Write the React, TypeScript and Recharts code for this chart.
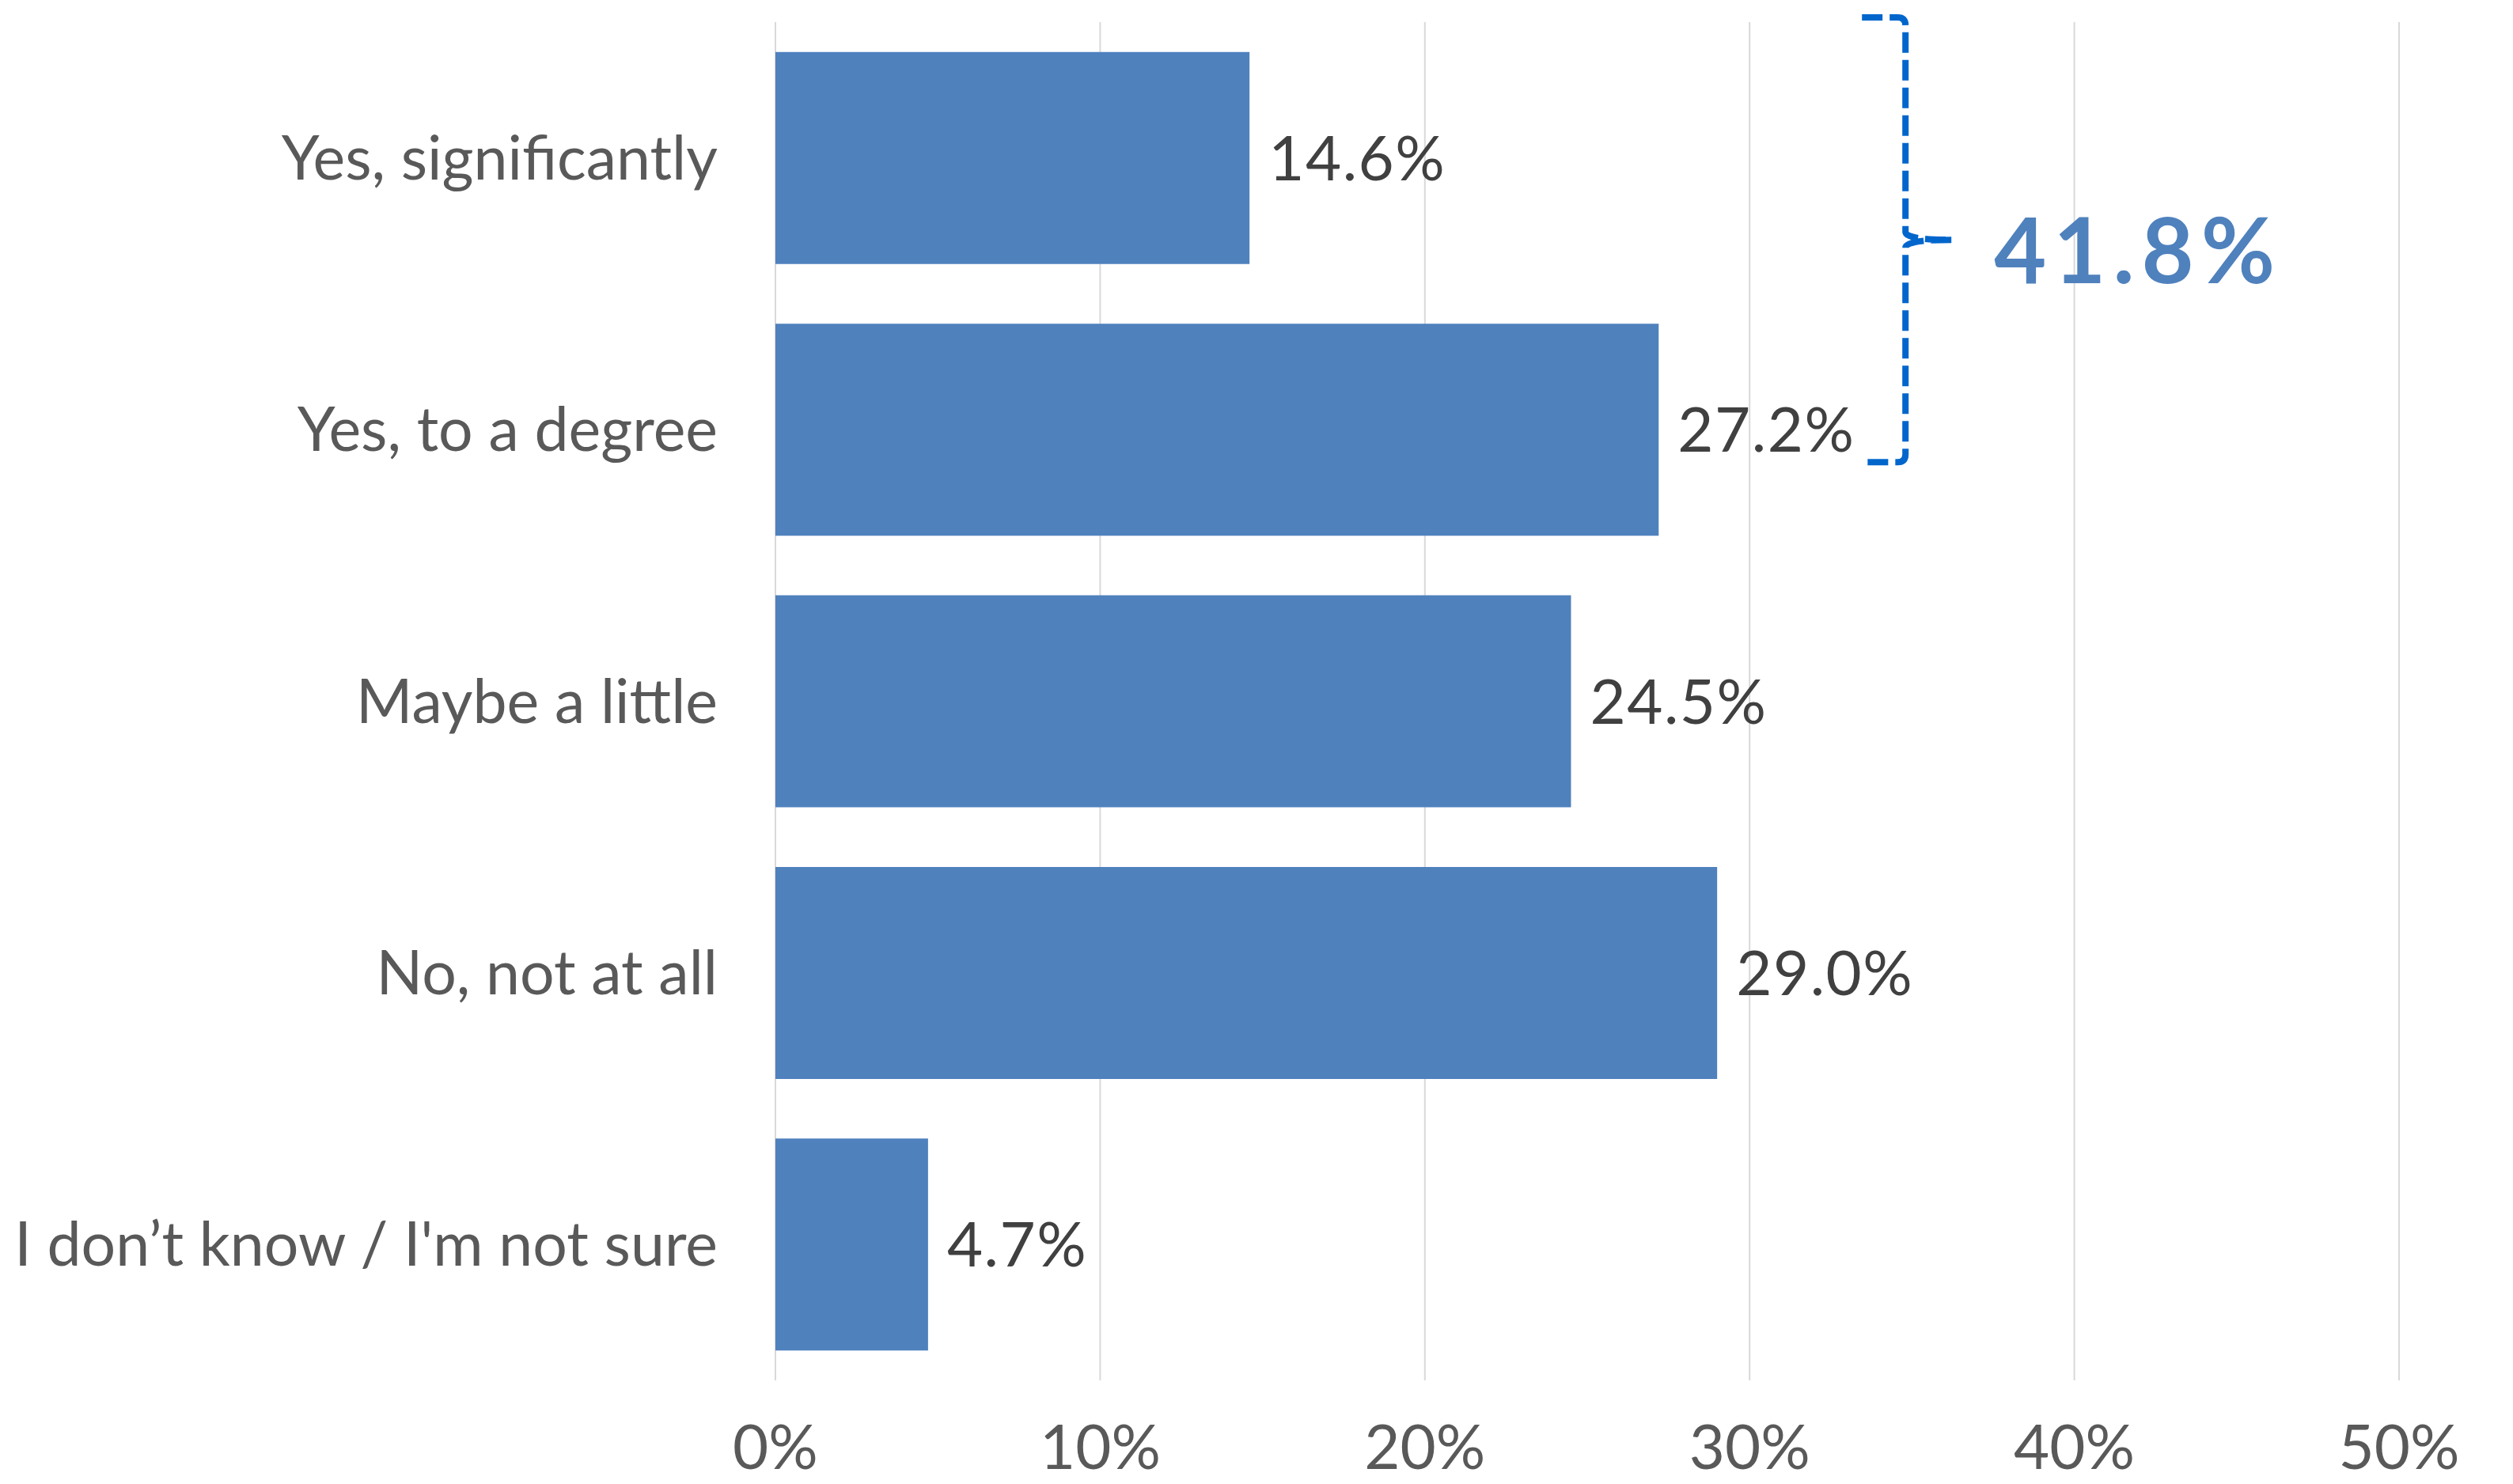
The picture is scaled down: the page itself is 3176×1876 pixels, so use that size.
import React from "react";
import { BarChart, Bar, XAxis, YAxis, CartesianGrid, LabelList, Customized } from "recharts";

const categories = [
  "Yes, significantly",
  "Yes, to a degree",
  "Maybe a little",
  "No, not at all",
  "I don’t know / I'm not sure",
];
const values = [14.6, 27.2, 24.5, 29.0, 4.7];
const xTicks = [0, 10, 20, 30, 40, 50];
const bracketGroup = [0, 1];

const data = categories.map((label, i) => ({ label, value: values[i] }));

const W = 3176;
const H = 1876;
const XH = 131;
const M = { top: 28, right: 144, bottom: 0, left: 0 };
const YW = 980;
const FONT = "Lato, 'Noto Sans', sans-serif";
const BAR = "#4F81BD";

const plotLeft = M.left + YW;
const plotW = W - M.right - plotLeft;
const plotTop = M.top;
const plotH = H - M.top - M.bottom - XH;
const band = plotH / categories.length;
const xPos = (v: number) => plotLeft + (v / 50) * plotW;

const YTick = (props: any) => {
  const { x, y, payload } = props;
  return (
    <text x={x - 73} y={y + 27} textAnchor="end" fill="#595959" fontSize={77} fontFamily={FONT}>
      {payload.value}
    </text>
  );
};

const XTick = (props: any) => {
  const { x, y, payload } = props;
  return (
    <text x={x} y={y + 112} textAnchor="middle" fill="#595959" fontSize={78} fontFamily={FONT}>
      {payload.value}%
    </text>
  );
};

const ValueLabel = (props: any) => {
  const { x, y, width, height, value } = props;
  return (
    <text
      x={x + width + 24}
      y={y + height / 2 + 28}
      fill="#404040"
      fontSize={78}
      fontFamily={FONT}
      letterSpacing={1.5}
    >
      {Number(value).toFixed(1)}%
    </text>
  );
};

const Bracket = () => {
  const total = bracketGroup.reduce((s, i) => s + values[i], 0);
  const bx = xPos(34.8);
  const top = plotTop - 6;
  const bottom = plotTop + band * 1.62;
  const mid = (top + bottom) / 2;
  const left = bx - 55;
  const tip = bx + 58;
  const r = 10;
  const d = [
    `M ${left} ${top} L ${bx - r} ${top} Q ${bx} ${top} ${bx} ${top + r}`,
    `L ${bx} ${mid - r} Q ${bx} ${mid} ${tip} ${mid}`,
    `M ${tip} ${mid} Q ${bx} ${mid} ${bx} ${mid + r}`,
    `L ${bx} ${bottom - r} Q ${bx} ${bottom} ${bx - r} ${bottom} L ${left} ${bottom}`,
  ].join(" ");
  return (
    <g>
      <path d={d} fill="none" stroke="#0066CC" strokeWidth={8} strokeDasharray="26 9" />
      <text
        x={bx + 112}
        y={mid + 55}
        fill={BAR}
        fontSize={114}
        fontWeight={700}
        fontFamily={FONT}
        letterSpacing={9}
      >
        {total.toFixed(1)}%
      </text>
    </g>
  );
};

export default function App() {
  return (
    <div style={{ position: "absolute", left: 0, top: 0, width: W, height: H, background: "#fff" }}>
      <BarChart width={W} height={H} data={data} layout="vertical" margin={M} barCategoryGap="11%">
        <CartesianGrid horizontal={false} vertical stroke="#D9D9D9" strokeWidth={2} />
        <XAxis
          type="number"
          domain={[0, 50]}
          ticks={xTicks}
          axisLine={false}
          tickLine={false}
          tickSize={0}
          tickMargin={0}
          tick={<XTick />}
          height={XH}
        />
        <YAxis
          type="category"
          dataKey="label"
          width={YW}
          axisLine={false}
          tickLine={false}
          tickSize={0}
          tickMargin={0}
          tick={<YTick />}
          interval={0}
        />
        <Bar dataKey="value" fill={BAR} isAnimationActive={false}>
          <LabelList dataKey="value" content={<ValueLabel />} />
        </Bar>
        <Customized component={<Bracket />} />
      </BarChart>
    </div>
  );
}
